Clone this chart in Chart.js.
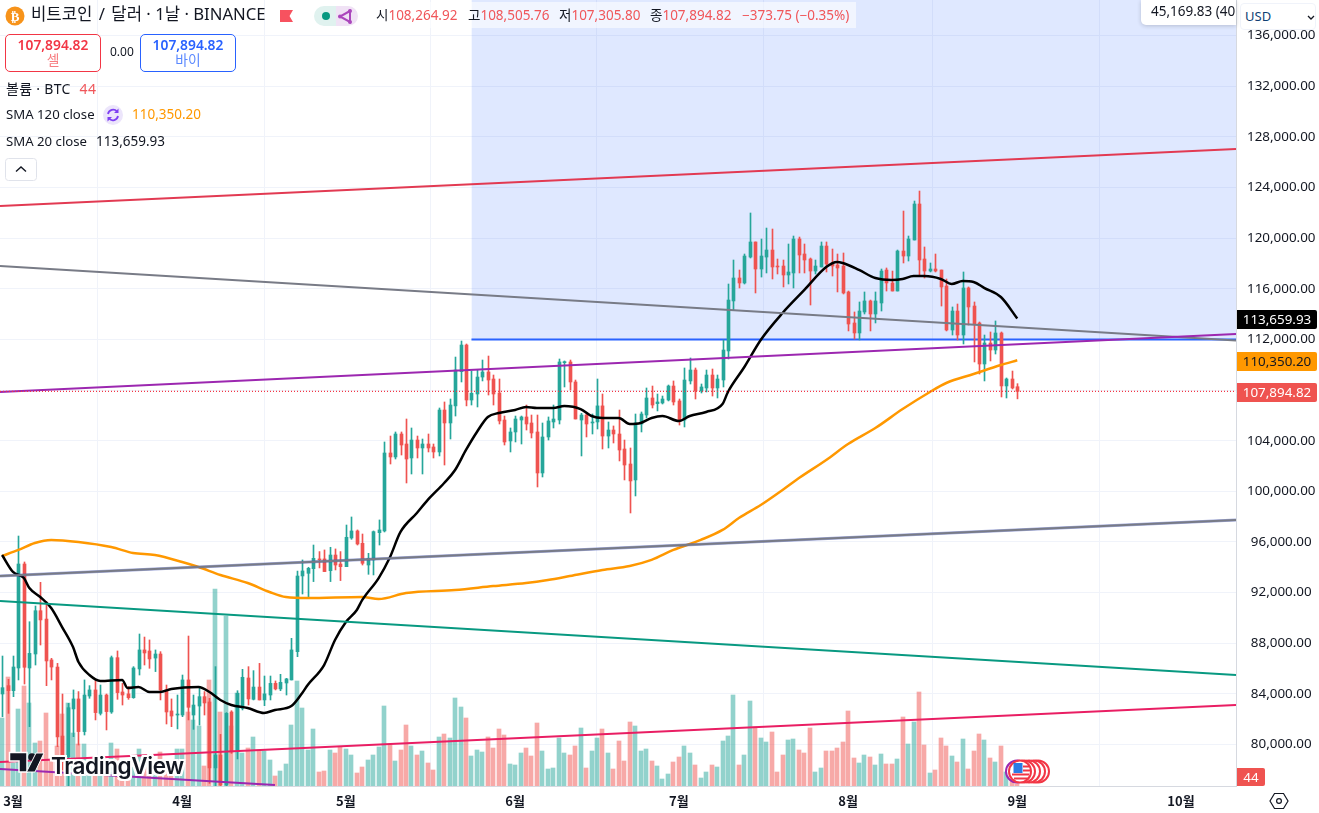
<!DOCTYPE html>
<html lang="ko">
<head>
<meta charset="utf-8">
<title>BTC / USD</title>
<script src="https://cdn.jsdelivr.net/npm/chart.js@4"></script>
<style>
  html, body { margin: 0; padding: 0; background: #fff; overflow: hidden; }
  body { width: 1319px; height: 813px; position: relative; color: #131722;
         font: 13.5px "Noto Sans", "Noto Sans CJK KR", sans-serif; }
  canvas { position: absolute; left: 0; top: 0; }
  .abs { position: absolute; white-space: nowrap; line-height: 1; }
  .red { color: #f0565a; }
  .tag { position: absolute; left: 1237px; width: 80px; height: 19px; line-height: 19px; text-align: center;
         border-radius: 0 2px 2px 0; font-size: 13.4px; }
  .box { position: absolute; top: 34px; width: 94px; height: 35px; border-radius: 5px; background: #fff;
         text-align: center; font-size: 13.8px; line-height: 15px; padding-top: 1px; }
  .box b { display: block; font-weight: 600; margin-top: 1px; }
</style>
</head>
<body>
<canvas id="priceChart" width="1319" height="813"></canvas>

<!-- header -->
<svg class="abs" style="left:5px;top:6px" width="20" height="20"><circle cx="10" cy="10" r="9.5" fill="#f7931a"/><text x="10" y="14.5" text-anchor="middle" font-size="13" font-weight="700" fill="#fff" font-family="DejaVu Sans">₿</text></svg>
<div class="abs" style="left:31px;top:6px;font-size:16.7px">비트코인 <span style="margin:0 2px">/</span> 달러 · 1날 · BINANCE</div>
<svg class="abs" style="left:280px;top:10px" width="14" height="12"><path d="M0 0H13L9.5 6L13 12H0Z" fill="#f7525f"/></svg>
<svg class="abs" style="left:314px;top:6px" width="45" height="20">
  <path d="M22 0H10a10 10 0 0 0 0 20H22Z" fill="#e0f2ef"/><path d="M22 0H34a10 10 0 0 1 0 20H22Z" fill="#f0e2f5"/>
  <circle cx="12" cy="10" r="4" fill="#089981"/>
  <path d="M36 5L26 10.500L36 16Z" fill="none" stroke="#ab47bc" stroke-width="2"/>
  <circle cx="36" cy="5" r="2" fill="#ab47bc"/><circle cx="26" cy="10.500" r="2" fill="#ab47bc"/><circle cx="36" cy="16" r="2" fill="#ab47bc"/>
</svg>
<div class="abs" style="left:358px;top:2px;width:498px;height:26px;background:rgba(255,255,255,.55)"></div>
<div class="abs" style="left:376px;top:9px">시<span class="red">108,264.92</span></div>
<div class="abs" style="left:468px;top:9px">고<span class="red">108,505.76</span></div>
<div class="abs" style="left:559px;top:9px">저<span class="red">107,305.80</span></div>
<div class="abs" style="left:650px;top:9px">종<span class="red">107,894.82</span></div>
<div class="abs red" style="left:742px;top:9px">−373.75 (−0.35%)</div>

<div class="box" style="left:5px;border:1px solid #f23645;color:#f23645"><b>107,894.82</b><span style="color:#f77c80">셀</span></div>
<div class="abs" style="left:110px;top:46px;font-size:12px">0.00</div>
<div class="box" style="left:140px;border:1px solid #2962ff;color:#2962ff"><b>107,894.82</b><span style="color:#5b89ff">바이</span></div>

<div class="abs" style="left:6px;top:82px;font-size:14px;letter-spacing:.3px">볼륨 · BTC <span class="red" style="margin-left:5px">44</span></div>
<div class="abs" style="left:6px;top:108px;font-size:13.2px">SMA 120 close</div>
<svg class="abs" style="left:103px;top:105px" width="20" height="20"><circle cx="10" cy="10" r="10" fill="#ece5fb"/><path d="M5 9a5.2 5.2 0 0 1 9-2.500M15 11a5.2 5.2 0 0 1-9 2.500" fill="none" stroke="#7e3ff2" stroke-width="1.800"/><path d="M15.500 3.500V8H11ZM4.500 16.500V12H9Z" fill="#7e3ff2"/></svg>
<div class="abs" style="left:132px;top:108px;color:#ff9800">110,350.20</div>
<div class="abs" style="left:6px;top:135px;font-size:13.2px">SMA 20 close</div>
<div class="abs" style="left:96px;top:135px">113,659.93</div>
<svg class="abs" style="left:5px;top:158px" width="32" height="23"><rect x=".5" y=".5" width="31" height="22" rx="3" fill="#fff" stroke="#e0e3eb"/><path d="M11 13.500L16 9L21 13.500" fill="none" stroke="#131722" stroke-width="1.400"/></svg>

<!-- top right boxes -->
<div class="abs" style="left:1141px;top:0;width:95px;height:25px;background:#fff;border-radius:0 0 0 5px;box-shadow:0 1px 4px rgba(19,23,34,.2);overflow:hidden;line-height:23px;padding-left:10px;box-sizing:border-box">45,169.83 (40.35%)</div>
<div class="abs" style="left:1240px;top:3px;width:76px;height:27px;background:#fff;border:1px solid #f0f3fa;border-radius:4px;box-sizing:border-box;line-height:25px;padding-left:4px;font-size:13px;color:#0f3f73">USD
  <svg class="abs" style="left:66px;top:11px" width="8" height="6"><path d="M1 1L4 4L7 1" fill="none" stroke="#131722" stroke-width="1.300"/></svg></div>

<!-- price labels on the axis -->
<div class="tag" style="top:310px;background:#000;color:#fff">113,659.93</div>
<div class="tag" style="top:352px;background:#ff9800;color:#131722">110,350.20</div>
<div class="tag" style="top:383px;background:#ef5350;color:#fff">107,894.82</div>
<div class="tag" style="top:768px;width:28px;height:18px;line-height:18px;background:#ef5350;color:#fff">44</div>
<svg class="abs" style="left:1269px;top:792px" width="20" height="18"><path d="M5.500 1.500H14.500L19 9L14.500 16.500H5.500L1 9Z" fill="none" stroke="#131722" stroke-width="1.200"/><circle cx="10" cy="9" r="2.400" fill="none" stroke="#131722" stroke-width="1.200"/></svg>

<!-- logo -->
<svg class="abs" style="left:8px;top:751px" width="40" height="25">
  <path d="M1.500 1.500H19V21H11V10H1.500Z" fill="#131722" stroke="#fff" stroke-width="1.500"/>
  <circle cx="24" cy="6" r="3.800" fill="#131722"/>
  <path d="M28 2H36L27 21H18.500Z" fill="#131722" stroke="#fff" stroke-width="1"/>
</svg>
<div class="abs" style="left:51px;top:752px;font:600 22.500px Inter, sans-serif;letter-spacing:-.4px;color:#131722;text-shadow:-2px 0 #fff,2px 0 #fff,0 -2px #fff,0 2px #fff,-2px -2px #fff,2px 2px #fff,-2px 2px #fff,2px -2px #fff">TradingView</div>

<!-- economic event markers -->
<svg class="abs" style="left:1004px;top:759px" width="48" height="26">
  <circle cx="13" cy="12.500" r="11" fill="#fff" stroke="#9c27b0" stroke-width="2"/>
  <circle cx="34" cy="12.500" r="11" fill="#fff" stroke="#f23645" stroke-width="2"/>
  <circle cx="30" cy="12.500" r="11" fill="#fff" stroke="#f23645" stroke-width="2"/>
  <circle cx="25" cy="12.500" r="11" fill="#fff" stroke="#f23645" stroke-width="2"/>
  <circle cx="20" cy="12.500" r="11" fill="#fff" stroke="#f23645" stroke-width="2"/>
  <circle cx="16" cy="12.500" r="11" fill="#fff" stroke="#f23645" stroke-width="2"/>
  <path d="M8 15.500H25M10 19.500H24M19 11.500H26M19 7.500H25" stroke="#f23645" stroke-width="2"/>
  <rect x="9.500" y="4" width="9" height="10" fill="#2b7be4"/>
</svg>

<script>
// daily candles, first one is 27 Feb, day 0 is 1 Mar
const firstDay = -2;

const opens = [
  83990, 84650, 84255, 86045, 94260, 86045, 87150, 90570, 89910, 86680,
  86120, 80670, 79040, 82810, 83600, 81020, 83830, 84310, 82460, 83910,
  82570, 86860, 84150, 84000, 83700, 85970, 87470, 87390, 86830, 87150,
  84310, 82650, 82330, 82330, 85100, 82330, 83040, 83780, 83360, 78150,
  79170, 76800, 82570, 79460, 82860, 85255, 83570, 84540, 83520, 83910,
  84830, 84390, 84860, 85100, 87335, 93315, 93525, 93890, 94660, 94660,
  93735, 94970, 94260, 94050, 96315, 96870, 95895, 94180, 94580, 96735,
  96870, 103030, 102715, 104530, 103740, 102635, 104055, 103425, 103740, 103505,
  103110, 106425, 105400, 106750, 109455, 111560, 107215, 107690, 109030, 109430,
  108875, 107770, 105635, 103980, 104690, 105635, 105875, 105400, 104690, 101450,
  104295, 105480, 105635, 110165, 110220, 108640, 105635, 106030, 105400, 105480,
  106750, 104370, 104845, 104530, 103345, 102160, 100900, 105320, 106030, 107375,
  106930, 106980, 107215, 108320, 107140, 105635, 108720, 109585, 107925, 108165,
  109190, 108165, 108795, 111090, 115040, 116855, 116460, 118510, 119700, 117565,
  118510, 119065, 117800, 117800, 117090, 117250, 119935, 118750, 118355, 117405,
  117725, 119380, 118040, 117880, 117800, 115750, 113300, 112510, 114170, 115040,
  114010, 114880, 117485, 116460, 115825, 118985, 118590, 119855, 122700, 118355,
  117405, 117565, 117485, 116220, 112745, 114245, 112350, 116065, 114640, 113300,
  110060, 111720, 111165, 112510, 108325, 108875, 108264.92
];
const highs = [
  86990, 85150, 86990, 96470, 94420, 89700, 90940, 92810, 91290, 86810,
  86410, 83990, 83250, 84310, 84180, 85100, 84650, 85040, 84700, 83990,
  86990, 87390, 84830, 84570, 86150, 88730, 88490, 88260, 87470, 87335,
  84700, 83600, 83910, 85490, 88570, 83910, 84440, 84180, 83650, 86150,
  80800, 82520, 82670, 84250, 85940, 86150, 85835, 86410, 85410, 85410,
  85020, 85545, 85230, 88390, 93700, 94580, 94000, 95760, 95240, 95370,
  95580, 95450, 95240, 97340, 97975, 96950, 96630, 95105, 96870, 97740,
  103900, 104370, 104690, 104690, 105715, 105005, 104370, 104135, 104530, 103740,
  106585, 107060, 107295, 110610, 111875, 111640, 109505, 109585, 110375, 110690,
  109190, 108875, 105950, 105005, 105950, 105950, 106820, 106030, 106030, 105400,
  105875, 106820, 110455, 110300, 110375, 108795, 106165, 106165, 106110, 108875,
  107690, 105480, 105165, 106425, 104055, 103425, 106110, 106270, 108165, 108320,
  107690, 107530, 108400, 108720, 107295, 109745, 110535, 109745, 108480, 109585,
  109665, 109190, 111960, 116380, 118275, 117485, 118750, 121990, 119700, 119935,
  120800, 120725, 118355, 118275, 119540, 120170, 120090, 119540, 118435, 118275,
  119700, 119700, 119145, 118750, 118830, 115825, 114170, 114960, 115750, 115115,
  115750, 117565, 117645, 117405, 119065, 122145, 120170, 122935, 123725, 119305,
  118040, 118750, 117485, 116775, 114565, 114800, 117330, 116145, 114960, 113380,
  112350, 112590, 113460, 112590, 108955, 109505, 108505.76
];
const lows = [
  82200, 82460, 83780, 85100, 84780, 81410, 86280, 87860, 84650, 85100,
  79830, 78000, 76500, 80620, 79960, 80750, 83650, 81940, 82330, 81150,
  82460, 83570, 83120, 83570, 83650, 85490, 86280, 86020, 85760, 83520,
  81620, 81410, 81230, 82200, 81940, 81200, 81540, 82330, 76930, 74600,
  75000, 75000, 79300, 78860, 82730, 83120, 83520, 83520, 83070, 83520,
  84310, 84250, 83910, 85100, 86940, 91890, 91680, 92870, 93950, 93660,
  92870, 93790, 92950, 94050, 96210, 95760, 94180, 93445, 93395, 95760,
  96790, 102160, 102555, 102870, 100660, 101370, 102635, 101370, 103110, 102635,
  102795, 102080, 104135, 105950, 108640, 106750, 106820, 106665, 108720, 107610,
  106820, 105320, 103660, 103110, 103900, 103740, 104845, 104215, 100345, 101135,
  104055, 105005, 105320, 108245, 108005, 105715, 102795, 104295, 104530, 104925,
  103345, 103425, 103820, 102400, 100900, 98290, 99635, 104690, 105795, 106585,
  106350, 106900, 107140, 106820, 105240, 105085, 108480, 107295, 107770, 107850,
  107530, 107375, 108245, 110455, 114325, 116065, 116380, 118435, 115670, 116930,
  117250, 116775, 117170, 116145, 116380, 116065, 117250, 117250, 114720, 117170,
  117725, 117330, 117010, 115750, 115590, 112670, 112035, 111960, 114010, 112670,
  113300, 114245, 115825, 115825, 115825, 118040, 118195, 119855, 117090, 116855,
  117330, 117330, 114640, 112670, 112350, 111960, 111640, 113140, 110220, 109270,
  108720, 110300, 110850, 107455, 107375, 108085, 107305.80
];
const closes = [
  84490, 84255, 86124, 94260, 86100, 87200, 90570, 89840, 86600, 86120,
  80600, 79040, 82910, 83600, 81020, 83910, 84310, 82520, 83910, 82600,
  86860, 84100, 83910, 83700, 86045, 87470, 87230, 86760, 87150, 84310,
  82570, 82250, 82410, 85100, 82940, 83120, 83780, 83280, 78150, 79170,
  76800, 82460, 79410, 84040, 85310, 83600, 84540, 83520, 84000, 84830,
  84390, 84910, 85180, 87470, 93310, 93710, 93920, 94710, 94600, 93660,
  94970, 94180, 94050, 96370, 96870, 95840, 94315, 94710, 96815, 96950,
  103030, 102715, 104530, 103660, 102555, 104055, 103425, 103740, 103425, 103110,
  106425, 105400, 106820, 109585, 111560, 107215, 107745, 109030, 109430, 108795,
  107690, 105560, 103900, 104690, 105715, 105875, 105320, 104610, 101450, 104295,
  105560, 105715, 110220, 110245, 108640, 105715, 106030, 105320, 105480, 106750,
  104370, 104845, 104530, 103265, 102080, 100820, 105400, 106110, 107375, 106820,
  107060, 107295, 108320, 107060, 105560, 108795, 109585, 107925, 108245, 109190,
  108165, 108875, 111165, 115115, 116855, 116460, 118590, 119700, 117565, 118590,
  119065, 117725, 117725, 117090, 117330, 119935, 118670, 118275, 117405, 117800,
  119380, 117960, 117800, 117645, 115670, 113220, 112510, 114245, 115040, 114010,
  115040, 117405, 116460, 115825, 118985, 118590, 119935, 122700, 118275, 117405,
  117565, 117405, 116145, 112745, 114245, 112350, 116065, 114565, 113220, 110060,
  111720, 111165, 112510, 108325, 108875, 108165, 107894.82
];
const volumes = [
  1360, 2180, 460, 1540, 2000, 1660, 860, 900, 1460, 520,
  800, 1440, 1660, 1060, 840, 840, 320, 320, 380, 380,
  860, 740, 320, 120, 380, 740, 380, 380, 320, 680,
  520, 380, 740, 740, 1480, 1320, 1200, 400, 2120, 3940,
  1480, 3400, 1200, 1860, 660, 760, 980, 720, 700, 520,
  200, 300, 440, 1220, 2100, 1560, 720, 1140, 280, 300,
  720, 660, 780, 740, 620, 260, 380, 520, 620, 780,
  1600, 820, 500, 720, 1220, 800, 620, 700, 460, 320,
  980, 1040, 960, 1760, 1580, 1360, 600, 720, 680, 980,
  760, 1140, 1020, 440, 420, 660, 760, 600, 1260, 700,
  340, 360, 960, 660, 620, 800, 1160, 360, 700, 960,
  1140, 660, 340, 900, 500, 1280, 1200, 700, 740, 500,
  400, 140, 240, 480, 580, 800, 660, 420, 160, 280,
  420, 380, 900, 1000, 1820, 420, 620, 1700, 1180, 960,
  880, 1080, 280, 620, 920, 940, 720, 660, 1160, 280,
  360, 700, 700, 760, 880, 1500, 560, 460, 620, 580,
  420, 640, 440, 440, 540, 1380, 840, 1280, 1880, 820,
  260, 320, 960, 800, 600, 480, 940, 340, 700, 1040,
  920, 560, 480, 800, 280, 120, 44
];

// moving averages at these days
const sma20Days = [-2, 0, 2, 3, 5, 7, 9, 11, 12, 14, 16, 20, 21, 23, 25, 27, 29, 34, 36, 38, 40, 43, 46, 48, 51, 53, 54, 57, 59, 61, 63, 64, 67, 69, 71, 74, 76, 79, 81, 83, 85, 87, 89, 92, 94, 96, 99, 101, 104, 106, 108, 111, 113, 115, 117, 119, 122, 124, 127, 130, 131, 134, 137, 141, 145, 149, 151, 152, 155, 158, 161, 163, 165, 167, 170, 172, 174, 176, 178, 181, 184];
const sma20Values = [94970, 93630, 93150, 92360, 91650, 90780, 89280, 87700, 86520, 85490, 85020, 85100, 84460, 84540, 84150, 84150, 84380, 84540, 84150, 83520, 83120, 82880, 82490, 82730, 83040, 84070, 84700, 86280, 88260, 89680, 90630, 91420, 93150, 94730, 96790, 98290, 99320, 100660, 101690, 103270, 104690, 105870, 106190, 106430, 106660, 106580, 106580, 106740, 106500, 105950, 105790, 105790, 105320, 105400, 105790, 105950, 105560, 105950, 106270, 106900, 107850, 109820, 111960, 114090, 115910, 117720, 118120, 118040, 117490, 116850, 116700, 116780, 117010, 117010, 116780, 116380, 116620, 116540, 116060, 115350, 113659.93];
const sma120Days = [-2, 1, 4, 7, 12, 18, 22, 26, 31, 34, 38, 43, 47, 50, 54, 64, 67, 72, 81, 88, 94, 98, 102, 108, 113, 117, 121, 126, 130, 133, 137, 141, 144, 149, 153, 158, 163, 168, 171, 176, 181, 184];
const sma120Values = [94890, 95370, 95920, 96160, 96000, 95600, 95130, 94970, 94420, 94020, 93390, 92760, 92050, 91650, 91570, 91650, 91490, 91970, 92210, 92520, 92760, 93000, 93310, 93790, 94100, 94580, 95370, 96160, 96950, 97890, 98920, 100110, 101050, 102480, 103740, 105000, 106500, 107850, 108560, 109270, 109980, 110350.20];

// x axis and y axis
const xMin = -2.38;
const xMax = 224.08;
const monthDays = [0, 31, 61, 92, 122, 153, 184, 214];
const monthLabels = ["3월", "4월", "5월", "6월", "7월", "8월", "9월", "10월"];
const priceTicks = [80000, 84000, 88000, 92000, 96000, 100000, 104000, 108000, 112000, 116000, 120000, 124000, 128000, 132000, 136000];

// drawn trend lines, value at the left and right end
const redLine = [122540, 127040];
const grayLine = [117800, 111920];
const purpleLine = [107850, 112430];
const grayLine2 = [93310, 97740];
const greenLine = [91340, 85490];
const pinkLine = [78620, 83120];
const lowLine = [78060, 76800];
const lowLineEndDay = 48;
const boxStartDay = 84;
const boxLevel = 112000;
const lastClose = 107894.82;

const UP = "#26a69a";
const DOWN = "#ef5350";
const days = opens.map((_, i) => i + firstDay);
const isUp = opens.map((o, i) => closes[i] >= o);

function trend(values) {
  return [{ x: xMin, y: values[0] }, { x: xMax, y: values[1] }];
}

function lineSet(data, color, width, order, extra) {
  return Object.assign({
    type: "line", data, borderColor: color, borderWidth: width, pointRadius: 0,
    tension: 0, fill: false, order
  }, extra);
}

// keep thin bars on whole pixels like the original, otherwise wicks go blurry
const snapBars = {
  id: "snapBars",
  afterDatasetsUpdate(chart) {
    chart.getSortedVisibleDatasetMetas().forEach(meta => {
      if (meta.type !== "bar") return;
      const odd = meta.controller.getDataset().barThickness % 2 === 1;
      meta.data.forEach(el => { el.x = Math.round(el.x) + (odd ? 0.5 : 0); });
    });
  }
};

new Chart(document.getElementById("priceChart"), {
  type: "bar",
  data: {
    datasets: [
      // blue box, filled up to the top of the chart
      lineSet([{ x: boxStartDay, y: boxLevel }, { x: xMax, y: boxLevel }], "#2962ff", 2, 100,
        { fill: "end", backgroundColor: "rgba(41,98,255,0.15)" }),
      {
        type: "bar", yAxisID: "yVol", grouped: false, barThickness: 4, order: 90,
        data: days.map((d, i) => ({ x: d, y: volumes[i] })),
        backgroundColor: isUp.map(u => u ? "rgba(38,166,154,0.5)" : "rgba(239,83,80,0.5)")
      },
      {
        type: "bar", grouped: false, barThickness: 1, order: 80,
        data: days.map((d, i) => ({ x: d, y: [lows[i], highs[i]] })),
        backgroundColor: isUp.map(u => u ? UP : DOWN)
      },
      {
        type: "bar", grouped: false, barThickness: 3, order: 70,
        data: days.map((d, i) => ({ x: d, y: [opens[i], closes[i]] })),
        backgroundColor: isUp.map(u => u ? UP : DOWN)
      },
      lineSet(sma120Days.map((d, i) => ({ x: d, y: sma120Values[i] })), "#ff9800", 2.5, 60, { cubicInterpolationMode: "monotone" }),
      lineSet(sma20Days.map((d, i) => ({ x: d, y: sma20Values[i] })), "#000000", 2.5, 55, { cubicInterpolationMode: "monotone" }),
      lineSet(trend(redLine), "#e23a52", 2, 50),
      lineSet(trend(grayLine), "#787b86", 2, 50),
      lineSet(trend(purpleLine), "#9c27b0", 2, 49),
      lineSet(trend(grayLine2), "rgba(63,81,181,0.5)", 3, 51),
      lineSet(trend(grayLine2), "#787b86", 2, 50),
      lineSet(trend(greenLine), "#089981", 2, 50),
      lineSet(trend(pinkLine), "#e91e63", 2, 50),
      lineSet([{ x: xMin, y: lowLine[0] }, { x: lowLineEndDay, y: lowLine[1] }], "#9c27b0", 2, 50),
      lineSet(trend([lastClose, lastClose]), "#f23645", 1.2, 45, { borderDash: [1, 2] })
    ]
  },
  plugins: [snapBars],
  options: {
    responsive: false,
    animation: false,
    layout: { padding: 0 },
    plugins: { legend: { display: false }, tooltip: { enabled: false } },
    scales: {
      x: {
        type: "linear",
        min: xMin,
        max: xMax,
        offset: false,
        grid: { color: "#f0f3fa", drawTicks: false },
        border: { color: "#d6d9e0" },
        afterBuildTicks: scale => { scale.ticks = monthDays.map(v => ({ value: v })); },
        afterFit: scale => { scale.height = 27; scale.paddingLeft = 0; scale.paddingRight = 0; },
        ticks: {
          autoSkip: false,
          maxRotation: 0,
          padding: 7,
          color: "#131722",
          font: { family: '"Noto Sans CJK KR", "Noto Sans"', size: 13, weight: "700" },
          callback: value => monthLabels[monthDays.indexOf(value)]
        }
      },
      y: {
        position: "right",
        min: 76722,
        max: 138816,
        grid: { color: "#f0f3fa", drawTicks: false },
        border: { color: "#d6d9e0" },
        afterBuildTicks: scale => { scale.ticks = priceTicks.map(v => ({ value: v })); },
        afterFit: scale => { scale.width = 83; scale.paddingTop = 0; scale.paddingBottom = 0; },
        ticks: {
          crossAlign: "center",
          padding: 11,
          color: "#131722",
          font: { family: '"Noto Sans"', size: 13.4 },
          callback: value => value.toLocaleString("en-US", { minimumFractionDigits: 2 })
        }
      },
      yVol: { display: false, min: 0, max: 15720 }
    }
  }
});
</script>
</body>
</html>
